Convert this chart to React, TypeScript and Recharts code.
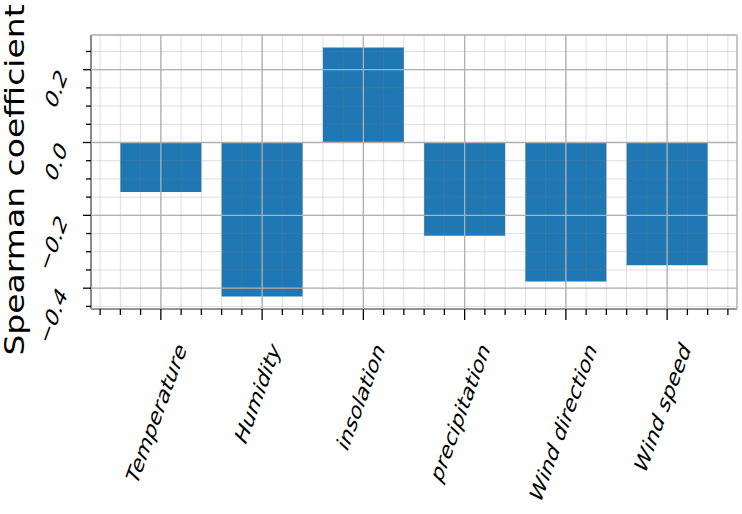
import React from 'react'
import { BarChart, Bar, XAxis, YAxis, CartesianGrid } from 'recharts'

const categories = ['Temperature', 'Humidity', 'insolation', 'precipitation', 'Wind direction', 'Wind speed']
const spearman = [-0.136, -0.423, 0.261, -0.256, -0.382, -0.337]
const yMajorTicks = [-0.4, -0.2, 0, 0.2]
const yTickLabels = ['−0.4', '−0.2', '0.0', '0.2']
const xMajorTicks = [0, 1, 2, 3, 4, 5]

const data = categories.map((name, i) => ({ name, idx: i, value: spearman[i] }))

// matplotlib-like look: 5% margins, bars 0.8 wide
const yMin = Math.min(...spearman)
const yMax = Math.max(...spearman)
const yPad = (yMax - yMin) * 0.05
const yDomain: [number, number] = [yMin - yPad, yMax + yPad]
const xPad = (categories.length - 1 + 0.8) * 0.05
const xDomain: [number, number] = [-0.4 - xPad, categories.length - 0.6 + xPad]

function stepTicks(lo: number, hi: number, step: number) {
  const out: number[] = []
  for (let k = Math.ceil(lo / step - 1e-9); k * step <= hi + 1e-9; k++) out.push(Math.round(k * step * 1000) / 1000)
  return out
}
const xMinorTicks = stepTicks(xDomain[0], xDomain[1], 0.2)
const yMinorTicks = stepTicks(yDomain[0], yDomain[1], 0.05)

const W = 742
const H = 514
const PLOT_LEFT = 91
const PLOT_RIGHT = 737
const PLOT_TOP = 35
const PLOT_BOTTOM = 309
const catPad = (-xDomain[0] - 0.5) * ((PLOT_RIGHT - PLOT_LEFT) / (xDomain[1] - xDomain[0]))

const ANGLE = 65
const SY = 1.27 // the picture is stretched vertically
const TICK_FONT = 18.5
const FONT = '"DejaVu Sans", Verdana, sans-serif'

let ctx: CanvasRenderingContext2D | null = null
function textWidth(s: string, size: number) {
  try {
    if (!ctx) ctx = document.createElement('canvas').getContext('2d')
    ctx!.font = `italic ${size}px "DejaVu Sans"`
    return ctx!.measureText(s).width
  } catch {
    return s.length * 0.6 * size
  }
}

function rotBox(text: string, size: number) {
  const L = textWidth(text, size)
  const a = 0.76 * size
  const d = /[pqyg]/.test(text) ? 0.24 * size : 0.02 * size
  const t = (-ANGLE * Math.PI) / 180
  const pts = [[0, -a], [L, -a], [0, d], [L, d]].map(([px, py]) => [
    px * Math.cos(t) - py * Math.sin(t),
    SY * (px * Math.sin(t) + py * Math.cos(t)),
  ])
  const xs = pts.map((p) => p[0])
  const ys = pts.map((p) => p[1])
  return { minX: Math.min(...xs), maxX: Math.max(...xs), minY: Math.min(...ys), maxY: Math.max(...ys) }
}

function RotText({ text, tx, ty }: { text: string; tx: number; ty: number }) {
  return (
    <text
      transform={`translate(${tx},${ty}) scale(1,${SY}) rotate(${-ANGLE})`}
      x={0}
      y={0}
      fontFamily={FONT}
      fontStyle="italic"
      fontSize={TICK_FONT}
      fill="#000"
    >
      {text}
    </text>
  )
}

function XTick({ x, y, payload }: any) {
  const v = payload.value
  const i = Math.round(v)
  const major = Math.abs(v - i) < 1e-6 && i >= 0 && i < categories.length
  let label = null
  if (major) {
    const b = rotBox(categories[i], TICK_FONT)
    label = <RotText text={categories[i]} tx={x - 3 - (b.minX + b.maxX) / 2} ty={y + 32 - b.minY} />
  }
  return (
    <g>
      <line x1={x} x2={x} y1={y} y2={y + (major ? 11 : 6)} stroke="#000" strokeWidth={1.3} />
      {label}
    </g>
  )
}

function YTick({ x, y, payload }: any) {
  const v = payload.value
  const k = yMajorTicks.findIndex((m) => Math.abs(m - v) < 1e-6)
  const major = k >= 0
  let label = null
  if (major) {
    const b = rotBox(yTickLabels[k], TICK_FONT)
    label = <RotText text={yTickLabels[k]} tx={x - 22.5 - b.maxX} ty={y - 2 - b.minY} />
  }
  return (
    <g>
      <line x1={x - (major ? 8 : 5)} x2={x} y1={y} y2={y} stroke="#000" strokeWidth={1.3} />
      {label}
    </g>
  )
}

function YLabel({ viewBox }: any) {
  const cy = viewBox.y + viewBox.height / 2 + 8
  return (
    <text
      transform={`translate(23.5,${cy}) scale(1,${SY}) rotate(-90)`}
      textAnchor="middle"
      fontFamily={FONT}
      fontSize={26}
      fill="#000"
    >
      Spearman coefficient
    </text>
  )
}

const frame = { stroke: '#000', strokeWidth: 1.5 }

export default function App() {
  return (
    <div style={{ width: W, height: H }}>
      <style>{'body{margin:0}'}</style>
      <BarChart
        width={W}
        height={H}
        data={data}
        barCategoryGap="10%"
        margin={{ top: PLOT_TOP, right: W - PLOT_RIGHT, bottom: 0, left: 0 }}
      >
        <XAxis
          xAxisId="num"
          dataKey="idx"
          type="number"
          domain={xDomain}
          ticks={xMinorTicks}
          interval={0}
          allowDataOverflow
          tick={<XTick />}
          tickLine={false}
          tickSize={0}
          tickMargin={0}
          axisLine={frame}
          height={H - PLOT_BOTTOM}
        />
        <XAxis xAxisId="cat" dataKey="name" type="category" hide height={0} padding={{ left: catPad, right: catPad }} />
        <XAxis xAxisId="numMajor" dataKey="idx" type="number" domain={xDomain} ticks={xMajorTicks} allowDataOverflow hide height={0} />
        <XAxis xAxisId="top" orientation="top" dataKey="name" height={0} tick={false} tickLine={false} axisLine={frame} />
        <YAxis
          yAxisId="val"
          type="number"
          domain={yDomain}
          ticks={yMinorTicks}
          interval={0}
          allowDataOverflow
          tick={<YTick />}
          tickLine={false}
          tickSize={0}
          tickMargin={0}
          axisLine={frame}
          width={PLOT_LEFT}
          label={{ content: (p: any) => <YLabel viewBox={p.viewBox} /> }}
        />
        <YAxis yAxisId="valMajor" type="number" domain={yDomain} ticks={yMajorTicks} allowDataOverflow hide width={0} />
        <YAxis yAxisId="right" orientation="right" width={0} tick={false} tickLine={false} axisLine={frame} />
        <Bar xAxisId="cat" yAxisId="val" dataKey="value" fill="#1f77b4" isAnimationActive={false} />
        <CartesianGrid xAxisId="num" yAxisId="val" stroke="#808080" strokeOpacity={0.25} strokeWidth={1} zIndex={600} />
        <CartesianGrid xAxisId="numMajor" yAxisId="valMajor" stroke="#b0b0b0" strokeWidth={1.3} zIndex={601} />
      </BarChart>
    </div>
  )
}
